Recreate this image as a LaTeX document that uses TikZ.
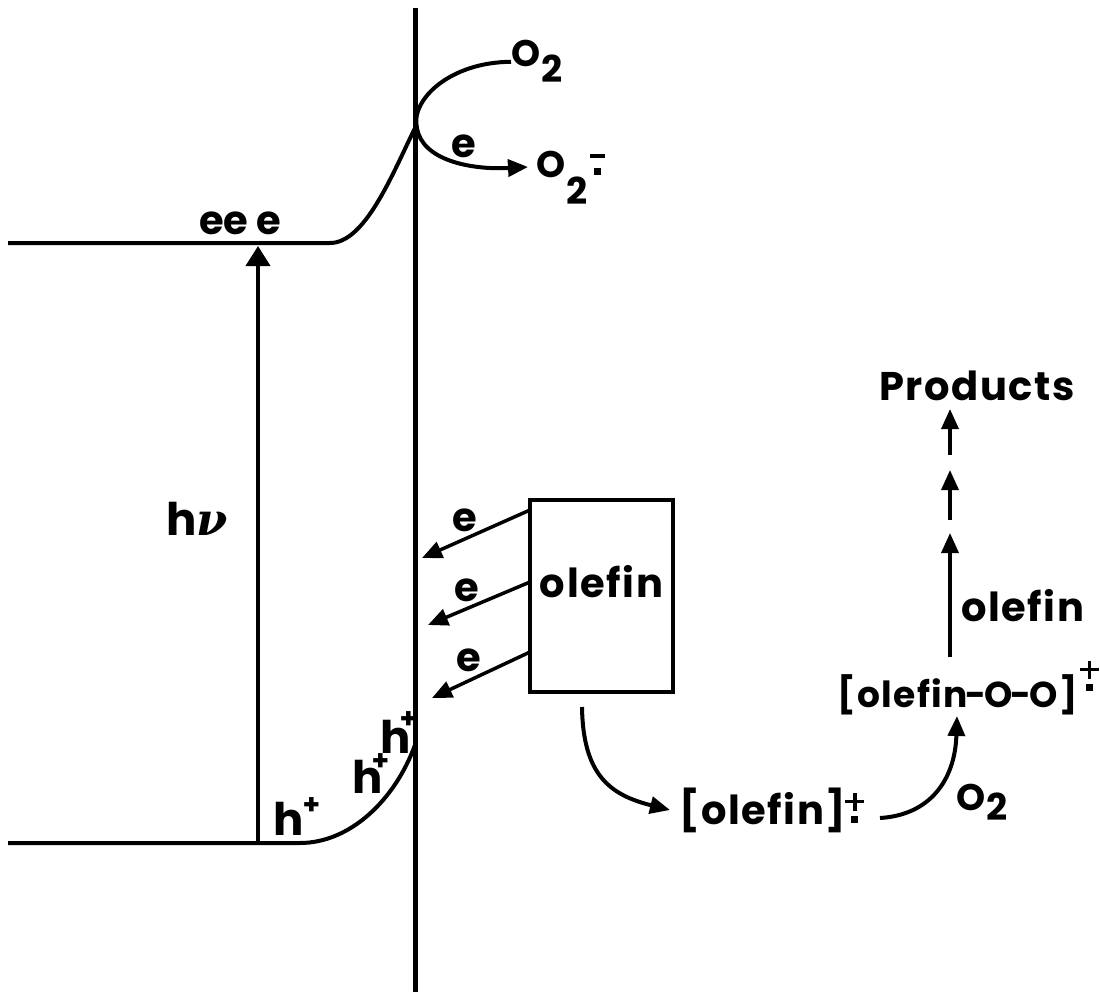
\documentclass[tikz,border=0pt]{standalone}
\usepackage{fontspec}
\setmainfont{Poppins}[LetterSpace=4]
\newfontfamily\greekfont{DejaVu Serif}
\usetikzlibrary{arrows.meta}
\newcommand\radplus[2]{\kern#2\raisebox{#1}{\rlap{\kern6pt\rule{7pt}{7pt}}\rlap{\rule[20pt]{19pt}{3.5pt}}\rlap{\kern7.75pt\rule[12.5pt]{3.5pt}{18pt}}}\kern20pt}
\newcommand\radminus[1]{\kern3pt\raisebox{#1}{\rlap{\kern4pt\rule{7pt}{7pt}}\rlap{\rule[17pt]{15pt}{3.5pt}}}\kern16pt}
\newcommand\subtwo[1]{\kern1pt\raisebox{-#1}{2}}
\newcommand\hplus[2]{h\kern#1\raisebox{#2}{\fontsize{28}{28}\selectfont +}}
\newcommand\nuglyph{{\greekfont\itshape ν}}
\newcommand\hy{\kern-2pt-\kern-2pt}
\tikzset{
  lbl/.style={font=\fontsize{40}{46}\selectfont\bfseries, inner sep=0pt, anchor=base west},
  olbl/.style={lbl, font=\fontsize{37}{44}\selectfont\bfseries},
  oolbl/.style={lbl, font=\fontsize{36}{43}\selectfont\bfseries},
  hlbl/.style={lbl, font=\fontsize{45}{52}\selectfont\bfseries},
  band/.style={line width=4pt},
  surf/.style={line width=5pt},
  arr/.style={line width=3.5pt, -{Triangle[length=20pt,width=17pt]}},
  curvarr/.style={line width=4pt, -{Triangle[length=20pt,width=17pt]}},
  boxstyle/.style={draw, line width=3.5pt, minimum width=143pt, minimum height=192pt,
    inner sep=0pt, text height=13pt, text depth=11pt, font=\fontsize{40}{46}\selectfont\bfseries},
}
\begin{document}
\begin{tikzpicture}[x=1pt,y=-1pt]
\useasboundingbox (0,0) rectangle (1100,995);
% semiconductor surface
\coordinate (sTop) at (415,8);
\coordinate (sBot) at (415,992);
\draw[surf] (sTop) -- (sBot);
% band edges
\coordinate (cbL) at (8,243);
\coordinate (cbS) at (415,128);
\draw[band] (cbL) -- (330,243) .. controls (365,243) and (392,175) .. (cbS);
\coordinate (vbL) at (8,843);
\coordinate (vbS) at (415,745);
\draw[band] (vbL) -- (300,843) .. controls (350,843) and (395,800) .. (vbS);
% excitation
\coordinate (hvB) at (258,843);
\coordinate (hvT) at (258,246);
\draw[line width=4pt, -{Triangle[length=20pt,width=24pt]}] (hvB) -- (hvT);
\node[hlbl] (hnu) at (166,535) {h\nuglyph};
\node[lbl] (eee) at (199,234) {e\kern0pt e\kern8pt e};
% holes
\node[hlbl] (h1) at (273,835) {\hplus{-1pt}{21pt}};
\node[hlbl] (h2) at (352,793) {\hplus{-11pt}{23pt}};
\node[hlbl] (h3) at (380,753) {\hplus{-11pt}{25pt}};
% oxygen reduction
\node[olbl] (o2a) at (511,67) {O\subtwo{16pt}};
\node[olbl] (o2m) at (536,178) {O\subtwo{27pt}\radminus{3pt}};
\coordinate (o2mIn) at (528,167);
\draw[curvarr] (o2a.west) .. controls (450,62) and (410,100) .. (417,128)
   .. controls (422,160) and (470,170) .. (o2mIn);
\node[lbl] (eO) at (451,158) {e};
% olefin box
\node[boxstyle] (olefin) at (601.5,596) {olefin};
\coordinate (e1) at (422,558);
\coordinate (e2) at (428,625);
\coordinate (e3) at (432,698);
\coordinate (b1) at (530,510);
\coordinate (b2) at (530,582);
\coordinate (b3) at (530,652);
\draw[arr] (b1) -- (e1);
\draw[arr] (b2) -- (e2);
\draw[arr] (b3) -- (e3);
\node[lbl] (le1) at (452,531) {e};
\node[lbl] (le2) at (454,601) {e};
\node[lbl] (le3) at (456,671) {e};
% radical cation
\node[lbl] (rad) at (679,824) {[olefin]\radplus{1pt}{-1pt}};
\coordinate (boxOut) at (582,707);
\coordinate (radIn) at (670,810);
\draw[curvarr] (boxOut) .. controls (583,775) and (610,795) .. (radIn);
% peroxy radical cation
\node[oolbl] (oo) at (837,707) {[olefin\hy O\hy O]\radplus{16pt}{2pt}};
\coordinate (ooIn) at (957,716);
\coordinate (radOut) at (880,818);
\draw[curvarr] (radOut) .. controls (930,815) and (955,780) .. (ooIn);
\node[olbl] (o2b) at (956,810) {O\subtwo{10pt}};
% to products
\node[lbl] (prod) at (879,400) {Products};
\coordinate (p1) at (950,657);
\coordinate (p2) at (950,533);
\coordinate (p3) at (950,520);
\coordinate (p4) at (950,470);
\coordinate (p5) at (950,455);
\coordinate (p6) at (950,409);
\draw[arr] (p1) -- (p2);
\draw[arr] (p3) -- (p4);
\draw[arr] (p5) -- (p6);
\node[lbl] (olab) at (961,621) {olefin};
\end{tikzpicture}
\end{document}
